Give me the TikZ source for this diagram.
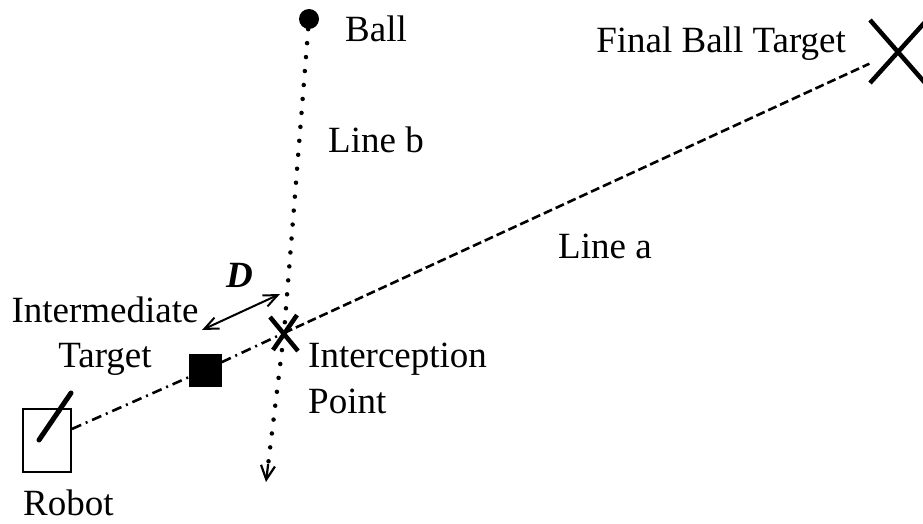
\documentclass[tikz,border=0pt]{standalone}
\usepackage{fontspec}
\setmainfont{Liberation Serif}
\usetikzlibrary{arrows.meta,calc}
\tikzset{
  lbl/.style={inner sep=0pt, font=\fontsize{37}{42}\selectfont},
  dotline/.style={line width=4.5pt, dash pattern=on 0pt off 14pt, line cap=round},
  dashline/.style={line width=2.6pt, dash pattern=on 9pt off 4pt},
  dashdotline/.style={line width=2.6pt, dash pattern=on 10pt off 5pt on 2pt off 5pt},
  xmark/.style={line width=4.5pt},
}
\begin{document}
\begin{tikzpicture}[x=1pt,y=-1pt]
\useasboundingbox (0,0) rectangle (923,524);
% key points
\node[circle, fill=black, minimum size=20pt, inner sep=0pt] (ball) at (309,19) {};
\coordinate (ix) at (284,333);
\coordinate (fx) at (897,51);
\coordinate (btip) at (266,482);
\node[draw, line width=2pt, minimum width=48pt, minimum height=63pt, inner sep=0pt] (robot) at (47,440) {};
\node[fill=black, minimum size=33pt, inner sep=0pt] (sq) at (205,370) {};
% robot heading
\draw[line width=5pt, line cap=round] (39,440) -- (71,393);
% X marks
\draw[xmark] (ix) ++(-14,-16) -- ++(28,34);
\draw[xmark] (ix) ++(13,-18) -- ++(-24,35);
\draw[xmark] (fx) ++(-27,-31) -- ++(56,64);
\draw[xmark] (fx) ++(-27,32) -- ++(56,-62);
% line a
\draw[dashdotline] (robot) -- (sq);
\draw[dashdotline] (sq) -- (ix);
\draw[dashline] (ix) -- ($(ix)!0.955!(fx)$);
% line b
\draw[dotline] (ball) -- (ix) -- ($(ix)!0.9!(btip)$);
\draw[line width=2.2pt, -{Straight Barb[length=14pt,width=14pt,line width=2.2pt]}] ($(ix)!0.88!(btip)$) -- (btip);
% D arrow
\coordinate (d1) at (202,330);
\coordinate (d2) at (280,294);
\draw[line width=2pt, {Straight Barb[length=14pt,width=12pt]}-{Straight Barb[length=14pt,width=12pt]}] (d1) -- (d2);
% labels
\node[lbl, anchor=base west] (tball) at (345,42) {Ball};
\node[lbl, anchor=base east] (tfinal) at (846,53) {Final Ball Target};
\node[lbl, anchor=base west] (tlb) at (328,152) {Line b};
\node[lbl, anchor=base west] (tla) at (558,258) {Line a};
\node[lbl, anchor=base] (tint) at (105,322) {Intermediate};
\node[lbl, anchor=base] (ttar) at (105,367) {Target};
\node[lbl, anchor=base west] (tic) at (308,367) {Interception};
\node[lbl, anchor=base west] (tpt) at (308,413) {Point};
\node[lbl, anchor=base west] (trob) at (23,515) {Robot};
\node[lbl, anchor=base west, font=\fontsize{37}{42}\selectfont\bfseries\itshape] (td) at (226,287) {D};
\end{tikzpicture}
\end{document}
